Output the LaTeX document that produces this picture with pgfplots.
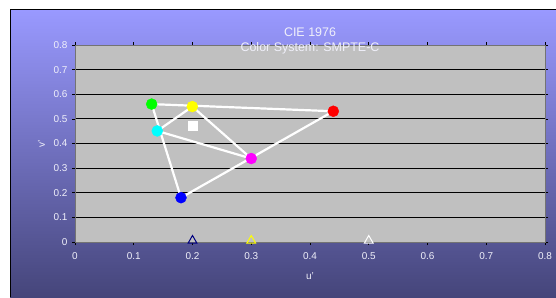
\documentclass[border=0pt]{standalone}
\usepackage{pgfplots}
\pgfplotsset{compat=1.18}
\usepackage{fontspec}
\setmainfont{Liberation Sans}
\definecolor{bgtop}{HTML}{9999FF}
\definecolor{bgbot}{HTML}{45457A}
\definecolor{plotbg}{HTML}{C0C0C0}
\definecolor{txt}{HTML}{F0F0FA}
\definecolor{navy}{HTML}{000080}
\definecolor{pR}{HTML}{FF0000}
\definecolor{pG}{HTML}{00FF00}
\definecolor{pB}{HTML}{0000FF}
\definecolor{pC}{HTML}{00FFFF}
\definecolor{pM}{HTML}{FF00FF}
\definecolor{pY}{HTML}{FFFF00}
\begin{document}
\begin{tikzpicture}[x=1bp,y=1bp]
\useasboundingbox (0,0) rectangle (556,297);
\fill[white] (0,0) rectangle (556,297);
\shade[top color=bgtop, bottom color=bgbot] (10,0) rectangle (556,287);
\draw[black, line width=1.2bp] (10.5,0) -- (10.5,287.5) -- (556,287.5);
\begin{axis}[
  at={(75bp,55bp)}, anchor=south west,
  scale only axis, width=470bp, height=197bp,
  xmin=0, xmax=0.8, ymin=0, ymax=0.8,
  xtick={0,0.1,...,0.8}, ytick={0,0.1,...,0.8},
  xticklabels={0,0.1,0.2,0.3,0.4,0.5,0.6,0.7,0.8},
  yticklabels={0,0.1,0.2,0.3,0.4,0.5,0.6,0.7,0.8},
  tick align=outside, tick style={black, line width=0.6pt},
  major tick length=3bp,
  ymajorgrids, grid style={black, line width=0.8pt},
  axis background/.style={fill=plotbg},
  axis line style={draw=gray!90!black, line width=1pt},
  ticklabel style={font=\fontsize{10}{11}\selectfont, text=txt},
  xticklabel style={yshift=-4bp},
  yticklabel style={xshift=-1bp},
  xlabel={u'}, ylabel={v'},
  label style={font=\fontsize{10}{11}\selectfont, text=txt},
  xlabel style={yshift=-6bp},
  ylabel style={yshift=2bp},
  clip=false,
]
% RGB triangle
\addplot[white, line width=2.2bp, mark=none] coordinates {(0.4397,0.531) (0.1305,0.560) (0.1804,0.180) (0.4397,0.531)};
% CMY triangle
\addplot[white, line width=2.2bp, mark=none] coordinates {(0.140,0.451) (0.1997,0.550) (0.300,0.339) (0.140,0.451)};
% primaries / secondaries
\addplot[only marks, mark=*, mark size=5.5bp, mark options={draw=pR, fill=pR}] coordinates {(0.4397,0.531)};
\addplot[only marks, mark=*, mark size=5.5bp, mark options={draw=pG, fill=pG}] coordinates {(0.1305,0.560)};
\addplot[only marks, mark=*, mark size=5.5bp, mark options={draw=pB, fill=pB}] coordinates {(0.1804,0.180)};
\addplot[only marks, mark=*, mark size=5.5bp, mark options={draw=pC, fill=pC}] coordinates {(0.140,0.451)};
\addplot[only marks, mark=*, mark size=5.5bp, mark options={draw=pY, fill=pY}] coordinates {(0.1997,0.550)};
\addplot[only marks, mark=*, mark size=5.5bp, mark options={draw=pM, fill=pM}] coordinates {(0.300,0.339)};
% white point
\addplot[only marks, mark=square*, mark size=4.5bp, mark options={draw=white, fill=white}] coordinates {(0.2003,0.4715)};
% triangles on axis
\addplot[only marks, mark=triangle, mark size=5bp, mark options={draw=navy, line width=1pt, yshift=1.5bp}] coordinates {(0.2,0)};
\addplot[only marks, mark=triangle, mark size=5bp, mark options={draw=pY, line width=1pt, yshift=1.5bp}] coordinates {(0.3,0)};
\addplot[only marks, mark=triangle, mark size=5bp, mark options={draw=white, line width=1pt, yshift=1.5bp}] coordinates {(0.5,0)};
\end{axis}
\node[text=txt, font=\fontsize{12.5}{14}\selectfont, align=center, inner sep=0] at (310,256.5) {CIE 1976\\[1bp]Color System: SMPTE-C};
\end{tikzpicture}
\end{document}
